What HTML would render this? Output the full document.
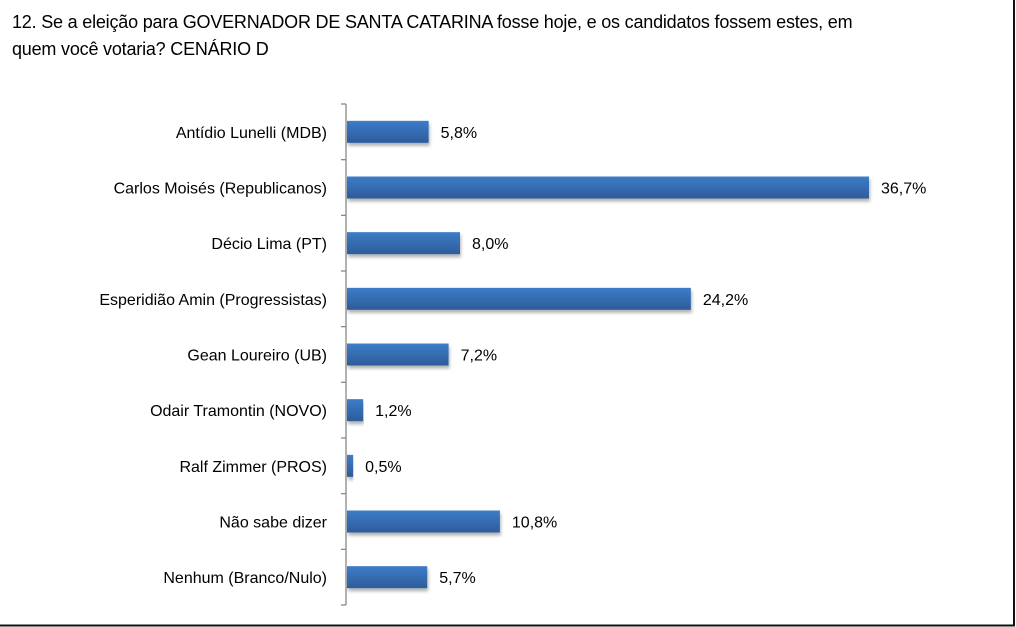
<!DOCTYPE html>
<html><head><meta charset="utf-8"><style>
body{margin:0;background:#fff;}
#wrap{position:relative;width:1016px;height:627px;overflow:hidden;font-family:"Liberation Sans",sans-serif;}
#title{position:absolute;left:12px;top:9px;font-size:18px;line-height:27px;color:#000;letter-spacing:-0.2px;}
</style></head><body>
<div id="wrap">
<div id="title">12. Se a eleição para GOVERNADOR DE SANTA CATARINA fosse hoje, e os candidatos fossem estes, em<br>quem você votaria? CENÁRIO D</div>
<svg id="chart" width="1016" height="627" style="position:absolute;left:0;top:0">
<defs>
<linearGradient id="g" x1="0" y1="0" x2="0" y2="1"><stop offset="0" stop-color="#3d7cc9"/><stop offset="1" stop-color="#2d5c9a"/></linearGradient>
<filter id="sh" x="-5%" y="-20%" width="110%" height="160%"><feDropShadow dx="1" dy="3" stdDeviation="1.5" flood-color="#000" flood-opacity="0.3"/></filter>
</defs>
<line x1="1014" y1="0" x2="1014" y2="626" stroke="#111" stroke-width="2"/>
<line x1="0" y1="625.5" x2="1015" y2="625.5" stroke="#111" stroke-width="2"/>
</svg>
</div>
<script>
const categories=["Antídio Lunelli (MDB)","Carlos Moisés (Republicanos)","Décio Lima (PT)","Esperidião Amin (Progressistas)","Gean Loureiro (UB)","Odair Tramontin (NOVO)","Ralf Zimmer (PROS)","Não sabe dizer","Nenhum (Branco/Nulo)"];
const values=[5.8,36.7,8.0,24.2,7.2,1.2,0.5,10.8,5.7];
const valueLabels=["5,8%","36,7%","8,0%","24,2%","7,2%","1,2%","0,5%","10,8%","5,7%"];
const svg=document.getElementById('chart');
const NS='http://www.w3.org/2000/svg';
const x0=346,pxPer=14.25,top0=104,bot0=605;
const band=(bot0-top0)/categories.length;
const xs=v=>x0+v*pxPer;
const yc=i=>top0+band*(i+0.5);
function mk(t,a){const e=document.createElementNS(NS,t);for(const k in a)e.setAttribute(k,a[k]);svg.appendChild(e);return e;}
let ax=mk('line',{x1:x0,y1:top0,x2:x0,y2:bot0,stroke:'#888','stroke-width':1.3});


for(let i=0;i<=categories.length;i++){
 const y=top0+band*i;
 let t=mk('line',{x1:x0-5,y1:y,x2:x0,y2:y,stroke:'#888','stroke-width':1.3});
 
 
}
categories.forEach((c,i)=>{
 const y=yc(i);
 let b=mk('rect',{x:x0+1,y:y-11,width:xs(values[i])-x0-1,height:22,fill:'url(#g)',filter:'url(#sh)'});
 
 
 let l=mk('text',{x:327,y:y+6,'text-anchor':'end','font-size':16,fill:'#000','font-family':'Liberation Sans, sans-serif'});
 l.textContent=c;
 
 
 let v=mk('text',{x:xs(values[i])+12,y:y+6,'font-size':16,fill:'#000','font-family':'Liberation Sans, sans-serif'});
 v.textContent=valueLabels[i];
 
 
});
</script>
</body></html>
